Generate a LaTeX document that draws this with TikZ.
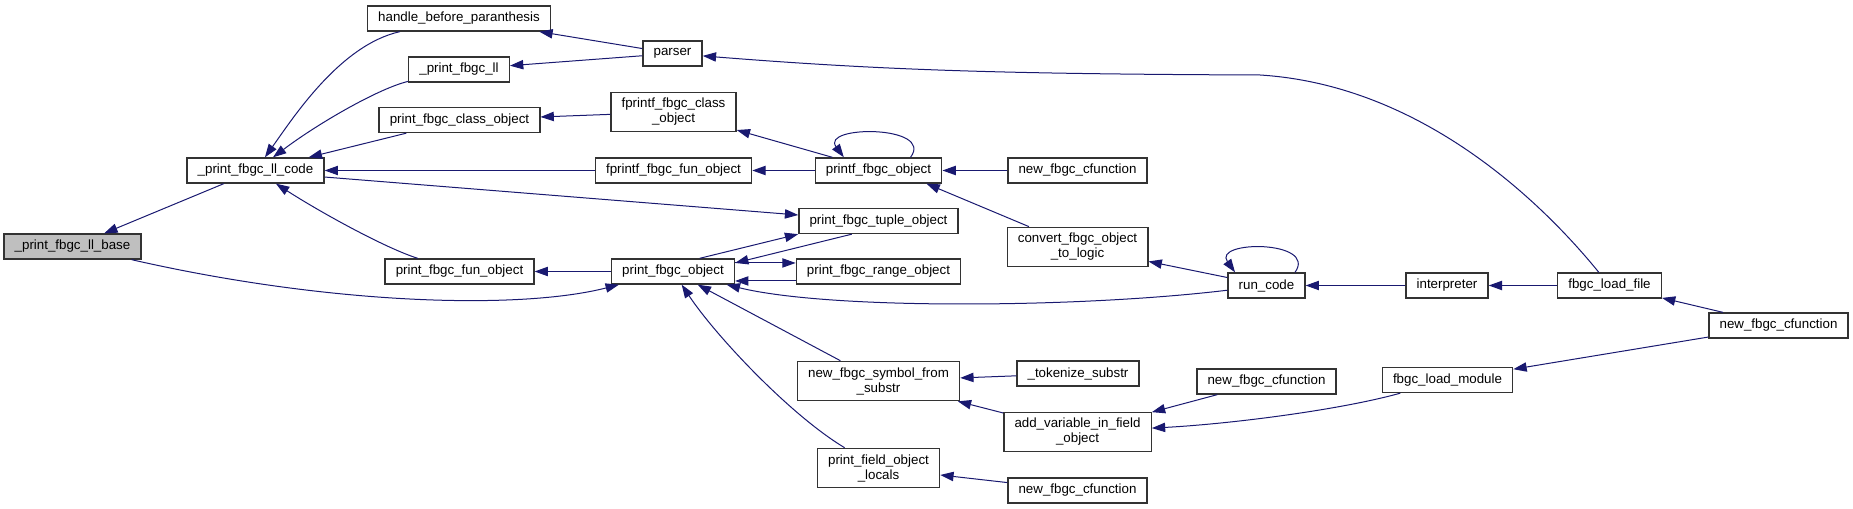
\documentclass[tikz,border=0pt]{standalone}
\usepackage{fontspec}
\setmainfont{Liberation Sans}
\usetikzlibrary{arrows.meta}
\definecolor{hivkek}{RGB}{25,25,112}
\definecolor{alapszurke}{RGB}{191,191,191}
\tikzset{
  fn/.style={draw=black!80,line width=1pt,fill=white,inner xsep=8pt,inner ysep=4.5pt,
    minimum height=18.75pt,align=center,font=\fontsize{10}{11.25}\selectfont},
  fnsel/.style={fn,fill=alapszurke},
  call/.style={draw=hivkek,line width=0.75pt,-{Triangle[length=10pt,width=7pt]}},
}
\begin{document}
\begin{tikzpicture}[x=0.75pt,y=-0.75pt]
  \useasboundingbox (0,0) rectangle (1853,509);
  \node[fnsel] (base) at (72.5,246.5) {\_print\_fbgc\_ll\_base};
  \node[fn] (llcode) at (255.5,170.5) {\_print\_fbgc\_ll\_code};
  \node[fn] (hbp) at (459,18.5) {handle\_before\_paranthesis};
  \node[fn] (printll) at (459,69.5) {\_print\_fbgc\_ll};
  \node[fn] (pclass) at (459.5,120) {print\_fbgc\_class\_object};
  \node[fn] (pfun) at (459.5,271.5) {print\_fbgc\_fun\_object};
  \node[fn] (parser) at (672.5,53.5) {parser};
  \node[fn] (fpclass) at (673.5,112) {fprintf\_fbgc\_class\\\_object};
  \node[fn] (fpfun) at (673.5,170.5) {fprintf\_fbgc\_fun\_object};
  \node[fn] (pobj) at (673,271.5) {print\_fbgc\_object};
  \node[fn] (printfobj) at (878.5,170.5) {printf\_fbgc\_object};
  \node[fn] (tuple) at (878.5,221) {print\_fbgc\_tuple\_object};
  \node[fn] (range) at (878.5,271.5) {print\_fbgc\_range\_object};
  \node[fn] (symbol) at (878.5,381) {new\_fbgc\_symbol\_from\\\_substr};
  \node[fn] (locals) at (878.5,468) {print\_field\_object\\\_locals};
  \node[fn] (cfunA) at (1077.5,170.5) {new\_fbgc\_cfunction};
  \node[fn] (convert) at (1077.5,247) {convert\_fbgc\_object\\\_to\_logic};
  \node[fn] (tokenize) at (1078,373.5) {\_tokenize\_substr};
  \node[fn] (addvar) at (1077.5,432) {add\_variable\_in\_field\\\_object};
  \node[fn] (cfunC) at (1077.5,490.5) {new\_fbgc\_cfunction};
  \node[fn] (runcode) at (1266.5,285.5) {run\_code};
  \node[fn] (cfunB) at (1266.5,381.5) {new\_fbgc\_cfunction};
  \node[fn] (interp) at (1447,285.5) {interpreter};
  \node[fn] (loadmod) at (1447.5,380) {fbgc\_load\_module};
  \node[fn] (loadfile) at (1609.5,285.5) {fbgc\_load\_file};
  \node[fn] (cfunD) at (1778.5,325.5) {new\_fbgc\_cfunction};
  \foreach \a/\b in {llcode/base,pclass/llcode,fpfun/llcode,parser/hbp,parser/printll,
      fpclass/pclass,printfobj/fpclass,printfobj/fpfun,cfunA/printfobj,runcode/convert,
      interp/runcode,loadfile/interp,cfunD/loadfile,cfunD/loadmod,cfunB/addvar,
      addvar/symbol,tokenize/symbol,cfunC/locals,pobj/pfun,symbol/pobj}
    \draw[call] (\a) -- (\b);
  \draw[call] (hbp) .. controls (340,45) and (293,118) .. (llcode);
  \draw[call] (printll) .. controls (380,88) and (320,122) .. (llcode);
  \draw[call] (pfun) .. controls (385,248) and (320,212) .. (llcode);
  \draw[call] ([yshift=-4.9pt]llcode.east) -- ([yshift=4.5pt]tuple.west);
  \draw[call] ([xshift=-7.5pt]base.south east) .. controls (330,305) and (520,310) .. ([xshift=6pt]pobj.south west);
  \draw[call] (loadfile) .. controls (1540,200) and (1420,85) .. (1260,75)
    .. controls (1000,74) and (880,70) .. (parser);
  \draw[call] ([xshift=24pt]printfobj.north) .. controls (935,125) and (820,125) .. ([xshift=-26pt]printfobj.north);
  \draw[call] (convert) -- ([xshift=-12pt]printfobj.south east);
  \draw[call] ([xshift=21.4pt]runcode.north) .. controls (1318,240) and (1212,240) .. ([xshift=-23.6pt]runcode.north);
  \draw[call] (runcode) .. controls (1080,308) and (830,310) .. (pobj);
  \draw[call] (loadmod) .. controls (1340,410) and (1230,424) .. (addvar);
  \draw[call] ([xshift=20pt]pobj.north) -- (tuple.south west);
  \draw[call] ([xshift=-20pt]tuple.south) -- ([yshift=6.4pt]pobj.east);
  \draw[call] ([yshift=6.4pt]pobj.east) -- ([yshift=6.4pt]range.west);
  \draw[call] ([yshift=-7.1pt]range.west) -- ([yshift=-7.1pt]pobj.east);
  \draw[call] (locals) .. controls (790,415) and (715,335) .. (pobj);
\end{tikzpicture}
\end{document}
